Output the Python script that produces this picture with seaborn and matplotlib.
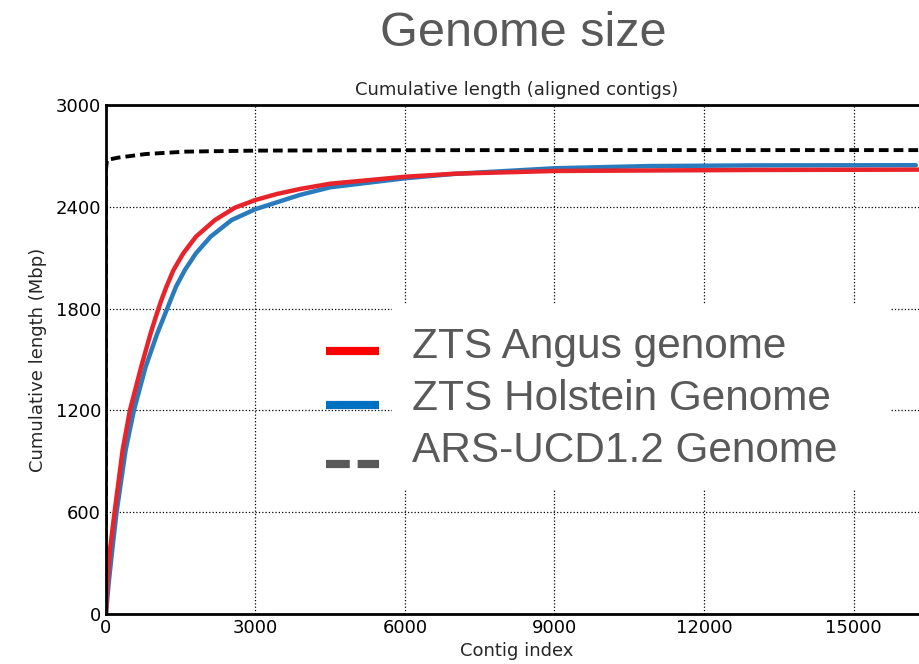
import matplotlib
matplotlib.use("Agg")
import matplotlib.pyplot as plt
from matplotlib.lines import Line2D
from matplotlib.patches import Rectangle
import seaborn as sns
import pandas as pd

# values (contig index, cumulative Mbp)
angus_x = [0, 26, 80, 174, 335, 482, 708, 896, 1003, 1100, 1204, 1351, 1552, 1806,
           2187, 2589, 3000, 3425, 3893, 4500, 6000, 7000, 9000, 10900, 13000, 16400]
angus_y = [0, 181, 377, 603, 967, 1202, 1458, 1654, 1754, 1840, 1922, 2025, 2126, 2224,
           2322, 2395, 2440, 2475, 2505, 2536, 2577, 2595, 2611, 2614, 2617, 2619]

holstein_x = [0, 54, 126, 214, 395, 562, 797, 1030, 1271, 1405, 1585, 1806, 2100,
              2522, 3000, 3893, 4500, 6000, 7000, 9000, 10900, 13000, 16250]
holstein_y = [0, 181, 377, 603, 967, 1202, 1458, 1654, 1831, 1929, 2028, 2126, 2224,
              2322, 2386, 2470, 2515, 2568, 2594, 2627, 2640, 2644, 2645]

ars_x = [0, 0, 20, 250, 800, 1600, 3000, 5000, 8000, 12000, 16500]
ars_y = [0, 2620, 2676, 2690, 2711, 2725, 2731, 2733, 2734, 2734, 2734]

legend_labels = ["ZTS Angus genome", "ZTS Holstein Genome", "ARS-UCD1.2 Genome"]
x_ticks = [0, 3000, 6000, 9000, 12000, 15000]
y_ticks = [0, 600, 1200, 1800, 2400, 3000]

sns.set_style("white")
plt.rcParams['font.family'] = ['DejaVu Sans']

fig = plt.figure(figsize=(9.19, 6.64), dpi=100)
ax = fig.add_axes([0.1153, 0.0753, 0.8948, 0.7666])

angus = pd.DataFrame({"x": angus_x, "y": angus_y})
holstein = pd.DataFrame({"x": holstein_x, "y": holstein_y})
ars = pd.DataFrame({"x": ars_x, "y": ars_y})

sns.lineplot(data=ars, x="x", y="y", ax=ax, sort=False, estimator=None,
             color="black", lw=2.8, linestyle=(0, (2.5, 1.3)))
sns.lineplot(data=holstein, x="x", y="y", ax=ax, sort=False, estimator=None,
             color="#2a7bbd", lw=3.2)
sns.lineplot(data=angus, x="x", y="y", ax=ax, sort=False, estimator=None,
             color="#e8232a", lw=3.2)

ax.set_xlim(0, 16500)
ax.set_ylim(0, 3000)
ax.set_xticks(x_ticks)
ax.set_yticks(y_ticks)
ax.grid(True, color="black", linestyle=":", linewidth=0.9)
ax.tick_params(labelsize=13, direction="in", length=5, colors="black")
for s in ax.spines.values():
    s.set_color("black")
    s.set_linewidth(2)

ax.set_xlabel("Contig index", fontsize=13, labelpad=4)
ax.set_ylabel("Cumulative length (Mbp)", fontsize=13, labelpad=6)
ax.set_title("Cumulative length (aligned contigs)", fontsize=13, pad=7)

fig.text(0.569, 0.950, "Genome size", fontsize=35, color="#595959",
         family="Liberation Sans", ha="center", va="center")

# legend: white text box over the grid, handles drawn beside it
W, H = 919, 664
fig.add_artist(Rectangle((392 / W, 1 - 489 / H), (890 - 392) / W, (489 - 305) / H,
                         facecolor="white", edgecolor="none", zorder=2))
handles = [("#ff0000", "-", 351), ("#0070c0", "-", 405), ("#595959", (0, (2.9, 0.96)), 464)]
baselines = [358, 410, 461.5]
for (col, ls, hy), lab, by in zip(handles, legend_labels, baselines):
    fig.add_artist(Line2D([326 / W, 378.5 / W], [1 - hy / H, 1 - hy / H],
                          color=col, lw=5.9, linestyle=ls, solid_capstyle="butt",
                          dash_capstyle="butt", zorder=3))
    fig.text(412 / W, 1 - by / H, lab, fontsize=30.5, color="#595959",
             family="Liberation Sans", ha="left", va="baseline", zorder=4)

fig.savefig("out.png", dpi=100)
